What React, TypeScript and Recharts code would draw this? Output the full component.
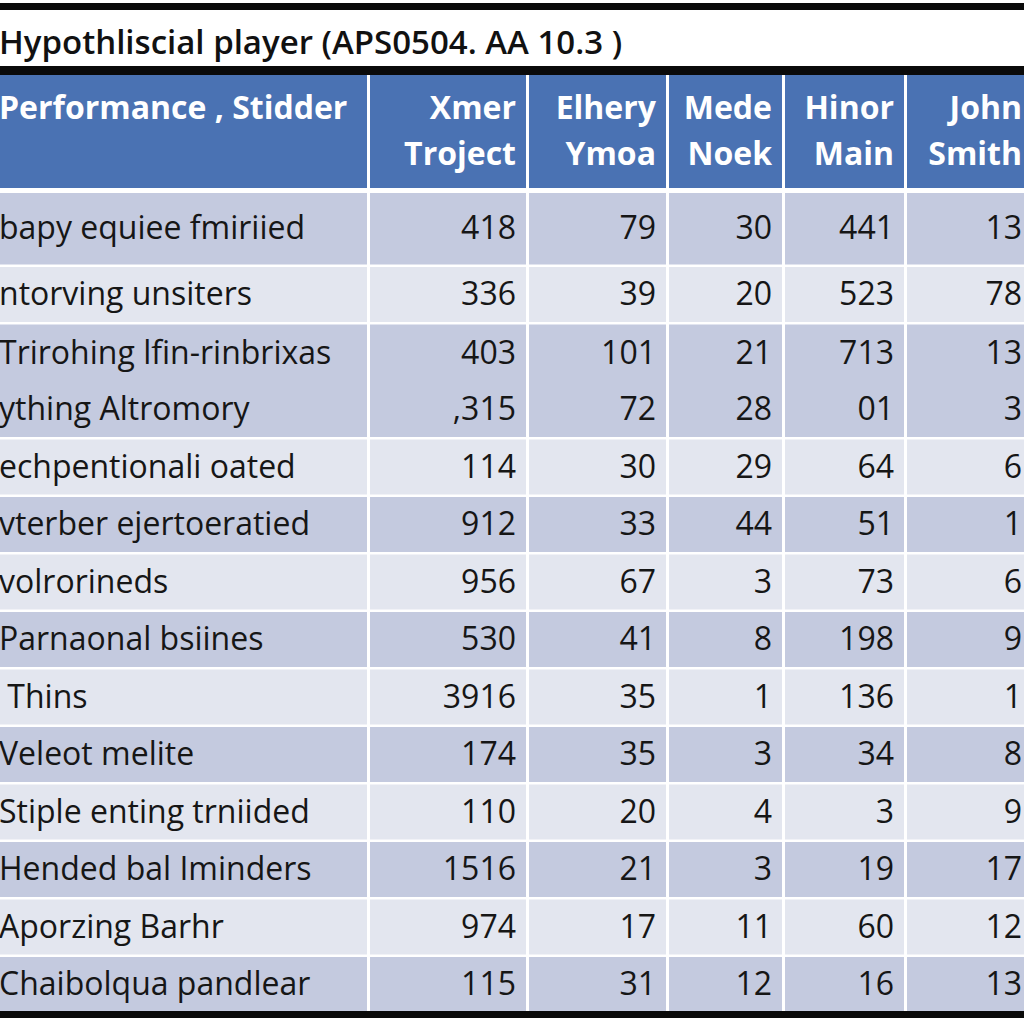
import { Bar, BarChart, XAxis, YAxis } from "recharts";

const title = "Hypothliscial player (APS0504. AA 10.3 )";

const headerLines = [
  ["Performance , Stidder"],
  ["Xmer", "Troject"],
  ["Elhery", "Ymoa"],
  ["Mede", "Noek"],
  ["Hinor", "Main"],
  ["John", "Smith"],
];

const rowLabels = [
  "bapy equiee fmiriied",
  "ntorving unsiters",
  "Trirohing lfin-rinbrixas",
  "ything Altromory",
  "echpentionali oated",
  "vterber ejertoeratied",
  "volrorineds",
  "Parnaonal bsiines",
  " Thins",
  "Veleot melite",
  "Stiple enting trniided",
  "Hended bal Iminders",
  "Aporzing Barhr",
  "Chaibolqua pandlear",
];

const xmerTroject = ["418", "336", "403", ",315", "114", "912", "956", "530", "3916", "174", "110", "1516", "974", "115"];
const elheryYmoa = ["79", "39", "101", "72", "30", "33", "67", "41", "35", "35", "20", "21", "17", "31"];
const medeNoek = ["30", "20", "21", "28", "29", "44", "3", "8", "1", "3", "4", "3", "11", "12"];
const hinorMain = ["441", "523", "713", "01", "64", "51", "73", "198", "136", "34", "3", "19", "60", "16"];
const johnSmith = ["13", "78", "13", "3", "6", "1", "6", "9", "1", "8", "9", "17", "12", "13"];

const valueColumns = [xmerTroject, elheryYmoa, medeNoek, hinorMain, johnSmith];

// layout of the grid (not data)
const COL_WIDTHS = [385, 159, 140, 116, 122, 128];
const TABLE_WIDTH = COL_WIDTHS.reduce((a, b) => a + b, 0);
const SEP = 3;
const FIRST_ROW_EXTRA = 15;
const MERGED_WITH_NEXT = [2];

const HEADER_BLUE = "#4a72b3";
const DARK = "#c4cadf";
const LIGHT = "#e3e6ef";
const FONT = "'Open Sans', 'Noto Sans', sans-serif";

const widthKeys = COL_WIDTHS.map((_, i) => `w${i}`);
const widthFields = Object.fromEntries(COL_WIDTHS.map((w, i) => [widthKeys[i], w]));

let dark = false;
const bodyData = rowLabels.map((label, i) => {
  if (!MERGED_WITH_NEXT.includes(i - 1)) dark = !dark;
  return {
    label,
    ...widthFields,
    cells: [label, ...valueColumns.map((col) => col[i])],
    dark,
    mergeNext: MERGED_WITH_NEXT.includes(i),
  };
});

const headerData = [{ label: "header", ...widthFields, lines: headerLines }];

function bodyCell(col: number) {
  return (props: any) => {
    const { x, y, width, height, payload, index } = props;
    const top = index === 0 ? y - FIRST_ROW_EXTRA : y + SEP / 2;
    const bottom = payload.mergeNext ? y + height + SEP / 2 : y + height - SEP / 2;
    const cy = (top + bottom) / 2 - 1;
    const isLabel = col === 0;
    return (
      <g>
        <rect x={x} y={top} width={width - SEP} height={bottom - top} fill={payload.dark ? DARK : LIGHT} />
        <text
          x={isLabel ? x + 14 : x + width - SEP - 10}
          y={cy}
          dy="0.36em"
          textAnchor={isLabel ? "start" : "end"}
          fontFamily={FONT}
          fontSize={32}
          fill="#161616"
          style={{ whiteSpace: "pre" }}
        >
          {payload.cells[col]}
        </text>
      </g>
    );
  };
}

function headerCell(col: number) {
  return (props: any) => {
    const { x, y, width, height, payload } = props;
    const lines: string[] = payload.lines[col];
    const isLabel = col === 0;
    const cy = y + height / 2;
    return (
      <g>
        <rect x={x} y={y} width={width - SEP} height={height} fill={HEADER_BLUE} />
        {lines.map((line, k) => (
          <text
            key={k}
            x={isLabel ? x + 14 : x + width - SEP - 10}
            y={cy - 24 + k * 46}
            dy="0.36em"
            textAnchor={isLabel ? "start" : "end"}
            fontFamily={FONT}
            fontWeight={700}
            fontSize={32}
            fill="#ffffff"
          >
            {line}
          </text>
        ))}
      </g>
    );
  };
}

function TableChart({ data, height, margin, cell }: any) {
  return (
    <BarChart
      width={TABLE_WIDTH}
      height={height}
      data={data}
      layout="vertical"
      margin={margin}
      barCategoryGap={0}
      barGap={0}
    >
      <XAxis type="number" domain={[0, TABLE_WIDTH]} hide />
      <YAxis type="category" dataKey="label" hide />
      {widthKeys.map((key, i) => (
        <Bar key={key} dataKey={key} stackId="grid" shape={cell(i)} isAnimationActive={false} />
      ))}
    </BarChart>
  );
}

export default function App() {
  return (
    <div style={{ position: "absolute", left: 0, top: 0, width: 1024, height: 1024, overflow: "hidden", background: "#fff" }}>
      <style>{"html,body{margin:0;overflow:hidden;}"}</style>
      <div style={{ position: "absolute", left: -15, top: 75 }}>
        <TableChart data={headerData} height={113} margin={{ top: 0, right: 0, bottom: 0, left: 0 }} cell={headerCell} />
      </div>
      <div style={{ position: "absolute", left: -15, top: 0 }}>
        <TableChart data={bodyData} height={1024} margin={{ top: 208, right: 0, bottom: 11, left: 0 }} cell={bodyCell} />
      </div>
      <svg width={1024} height={1024} style={{ position: "absolute", left: 0, top: 0, pointerEvents: "none" }}>
        <rect x={0} y={3} width={1024} height={7} fill="#0a0a0a" />
        <text x={-1} y={42} dy="0.36em" fontFamily={FONT} fontWeight={600} fontSize={33} fill="#111">
          {title}
        </text>
        <rect x={0} y={66} width={1024} height={9} fill="#0a0a0a" />
        <rect x={0} y={1011} width={1024} height={7} fill="#0a0a0a" />
      </svg>
    </div>
  );
}
